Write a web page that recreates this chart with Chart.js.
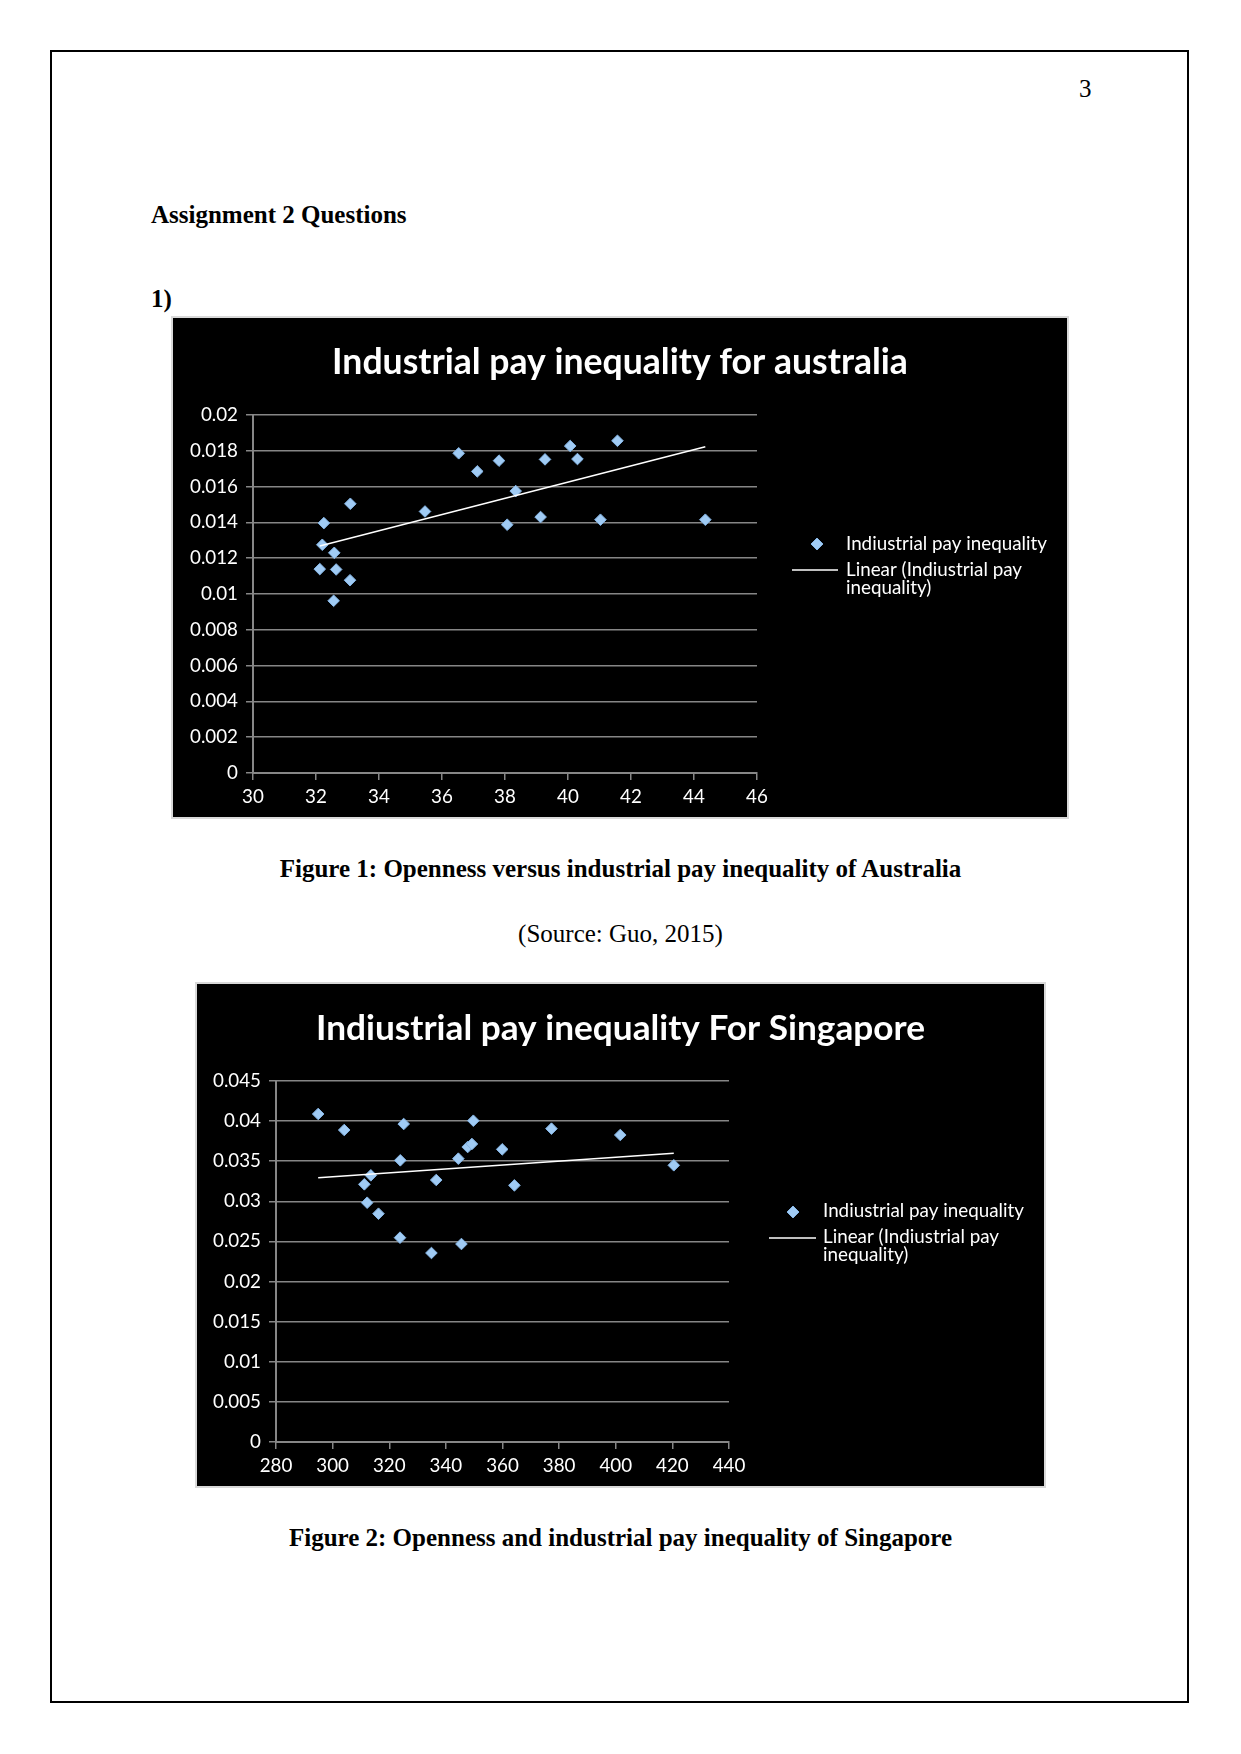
<!DOCTYPE html>
<html>
<head>
<meta charset="utf-8">
<script src="https://cdn.jsdelivr.net/npm/chart.js@4.4.1/dist/chart.umd.min.js"></script>
<style>
html,body{margin:0;padding:0;background:#fff;}
body{width:1241px;height:1754px;position:relative;overflow:hidden;}
.frame{position:absolute;left:50px;top:50px;width:1135px;height:1649px;border:2px solid #000;}
.t{position:absolute;font-family:"Liberation Serif","Times New Roman",serif;font-size:25px;line-height:25px;white-space:nowrap;color:#000;}
.b{font-weight:bold;}
.c{left:0;width:1241px;text-align:center;}
.chart{position:absolute;background:#000;border:2px solid #d9d9d9;}
.chart canvas{display:block;}
</style>
</head>
<body>
<div class="frame"></div>
<div class="t" style="left:1079px;top:76px;">3</div>
<div class="t b" style="left:151px;top:202px;">Assignment 2 Questions</div>
<div class="t b" style="left:151px;top:286px;">1)</div>

<div class="chart" style="left:171px;top:316px;width:894px;height:499px;">
  <canvas id="ausChart" width="894" height="499"></canvas>
</div>
<div class="t b c" style="top:856px;">Figure 1: Openness versus industrial pay inequality of Australia</div>
<div class="t c" style="top:921px;">(Source: Guo, 2015)</div>

<div class="chart" style="left:195px;top:982px;width:847px;height:502px;">
  <canvas id="sgChart" width="847" height="502"></canvas>
</div>
<div class="t b c" style="top:1525px;">Figure 2: Openness and industrial pay inequality of Singapore</div>

<script>
// ---------- DATA ----------
const ausTitle = "Industrial pay inequality for australia";
const ausOpenness   = [32.12, 32.25, 32.20, 32.58, 32.64, 32.56, 33.09, 33.08, 35.46, 36.53, 37.12, 37.81, 38.07, 38.34, 39.13, 39.27, 40.07, 40.30, 41.03, 41.57, 44.36];
const ausInequality = [0.01139, 0.01396, 0.01275, 0.01230, 0.01137, 0.00962, 0.01504, 0.01077, 0.01461, 0.01786, 0.01685, 0.01745, 0.01387, 0.01575, 0.01430, 0.01752, 0.01827, 0.01754, 0.01415, 0.01856, 0.01415];
const ausTrendX = [32.12, 44.36];
const ausTrendY = [0.01268, 0.01823];
const ausXTicks = [30, 46, 2];      // min, max, step
const ausYTicks = [0, 0.02, 0.002]; // min, max, step

const sgTitle = "Indiustrial pay inequality For Singapore";
const sgOpenness   = [294.9, 304.1, 325.1, 323.9, 313.5, 311.2, 312.2, 316.2, 323.8, 334.9, 336.6, 344.4, 345.5, 347.7, 349.2, 349.7, 359.9, 364.2, 377.3, 401.6, 420.5];
const sgInequality = [0.04089, 0.03889, 0.03964, 0.03511, 0.03324, 0.03212, 0.02983, 0.02846, 0.02547, 0.02356, 0.03266, 0.03532, 0.02468, 0.03677, 0.03715, 0.04005, 0.03648, 0.03199, 0.03906, 0.03827, 0.03449];
const sgTrendX = [294.9, 420.5];
const sgTrendY = [0.03295, 0.03598];
const sgXTicks = [280, 440, 20];
const sgYTicks = [0, 0.045, 0.005];

const seriesLabel = "Indiustrial pay inequality";
const trendLabel = "Linear (Indiustrial pay inequality)";

// ---------- STYLE HELPERS ----------
const FONT = "Lato, 'Open Sans', sans-serif";
function fitSize(text, weight, target) {
  const c = document.createElement('canvas').getContext('2d');
  c.font = weight + " 100px " + FONT;
  return 100 * target / c.measureText(text).width;
}
const tickSize = fitSize("0.018", "normal", 48);
const legendSize = fitSize(seriesLabel, "normal", 201);
const GRID = '#868686';
const YAXIS_W = 76;

function wrap(ctx, text, maxW) {
  const words = text.split(' ');
  const lines = [];
  let cur = '';
  for (const w of words) {
    const test = cur ? cur + ' ' + w : w;
    if (ctx.measureText(test).width > maxW && cur) { lines.push(cur); cur = w; }
    else cur = test;
  }
  if (cur) lines.push(cur);
  return lines;
}

const titlePlugin = {
  id: 'xlTitle',
  afterDraw(chart, args, o) {
    const ctx = chart.ctx;
    ctx.save();
    ctx.font = "bold " + o.size + "px " + FONT;
    ctx.fillStyle = '#ffffff';
    ctx.textAlign = 'center';
    ctx.textBaseline = 'alphabetic';
    ctx.fillText(o.text, chart.width / 2, o.baseline);
    ctx.restore();
  }
};

const legendPlugin = {
  id: 'xlLegend',
  afterDraw(chart, args, o) {
    const ctx = chart.ctx;
    const ds = chart.data.datasets;
    ctx.save();
    const r = 6;
    ctx.beginPath();
    ctx.moveTo(o.markerX, o.markerY - r);
    ctx.lineTo(o.markerX + r, o.markerY);
    ctx.lineTo(o.markerX, o.markerY + r);
    ctx.lineTo(o.markerX - r, o.markerY);
    ctx.closePath();
    ctx.fillStyle = ds[0].backgroundColor;
    ctx.fill();
    ctx.lineWidth = 1;
    ctx.strokeStyle = ds[0].borderColor;
    ctx.stroke();
    ctx.beginPath();
    ctx.moveTo(o.lineX1, o.lineY);
    ctx.lineTo(o.lineX2, o.lineY);
    ctx.strokeStyle = ds[1].borderColor;
    ctx.lineWidth = 1.5;
    ctx.stroke();
    ctx.font = o.size + "px " + FONT;
    ctx.fillStyle = '#ffffff';
    ctx.textAlign = 'left';
    ctx.textBaseline = 'alphabetic';
    ctx.fillText(ds[0].label, o.textX, o.base1);
    const lines = wrap(ctx, ds[1].label, o.maxW);
    lines.forEach((ln, i) => ctx.fillText(ln, o.textX, o.base2 + i * o.lineGap));
    ctx.restore();
  }
};

function trimNum(v) { return String(+v.toFixed(4)); }

function makeChart(id, cfg) {
  const pts = cfg.xs.map((x, i) => ({x: x, y: cfg.ys[i]}));
  const trend = cfg.tx.map((x, i) => ({x: x, y: cfg.ty[i]}));
  return new Chart(document.getElementById(id), {
    type: 'scatter',
    data: {
      datasets: [
        {label: seriesLabel, data: pts, pointStyle: 'rectRot', pointRadius: 5.8, pointHoverRadius: 5.8,
         backgroundColor: '#a0cbf4', borderColor: '#84b4e4', borderWidth: 1, order: 1},
        {type: 'line', label: trendLabel, data: trend, showLine: true, borderColor: '#ffffff',
         borderWidth: 1.5, pointRadius: 0, fill: false, tension: 0, order: 0}
      ]
    },
    options: {
      responsive: false,
      animation: false,
      events: [],
      layout: {padding: {left: cfg.area.left - YAXIS_W, top: cfg.area.top, right: cfg.w - cfg.area.right, bottom: 0}},
      plugins: {
        legend: {display: false},
        tooltip: {enabled: false},
        xlTitle: {text: cfg.title, size: fitSize(cfg.title, 'bold', cfg.titleW), baseline: 56},
        xlLegend: Object.assign({size: legendSize, maxW: 210, lineGap: 18.3}, cfg.legend)
      },
      scales: {
        x: {
          type: 'linear', min: cfg.xt[0], max: cfg.xt[1],
          afterFit(s) { s.height = cfg.h - cfg.area.bottom; },
          ticks: {stepSize: cfg.xt[2], autoSkip: false, maxRotation: 0, color: '#ffffff',
                  font: {family: FONT, size: tickSize}, padding: 6},
          grid: {drawOnChartArea: false, drawTicks: true, tickLength: 7, color: GRID, lineWidth: 1.5},
          border: {display: true, color: GRID, width: 2}
        },
        y: {
          type: 'linear', min: cfg.yt[0], max: cfg.yt[1],
          afterFit(s) { s.width = YAXIS_W; },
          ticks: {stepSize: cfg.yt[2], autoSkip: false, color: '#ffffff',
                  font: {family: FONT, size: tickSize}, padding: 8, callback: trimNum},
          grid: {drawOnChartArea: true, drawTicks: true, tickLength: 7, color: GRID, lineWidth: 1.5},
          border: {display: true, color: GRID, width: 2}
        }
      }
    },
    plugins: [titlePlugin, legendPlugin]
  });
}

makeChart('ausChart', {
  xs: ausOpenness, ys: ausInequality, tx: ausTrendX, ty: ausTrendY,
  xt: ausXTicks, yt: ausYTicks, title: ausTitle, titleW: 576,
  w: 894, h: 499, area: {left: 80, right: 584, top: 97, bottom: 455},
  legend: {markerX: 644, markerY: 226, lineX1: 619, lineX2: 665, lineY: 252, textX: 673, base1: 232, base2: 258}
});

makeChart('sgChart', {
  xs: sgOpenness, ys: sgInequality, tx: sgTrendX, ty: sgTrendY,
  xt: sgXTicks, yt: sgYTicks, title: sgTitle, titleW: 609,
  w: 847, h: 502, area: {left: 79, right: 532, top: 97, bottom: 458},
  legend: {markerX: 596, markerY: 228, lineX1: 572, lineX2: 619, lineY: 254, textX: 626, base1: 233, base2: 259}
});
</script>
</body>
</html>
